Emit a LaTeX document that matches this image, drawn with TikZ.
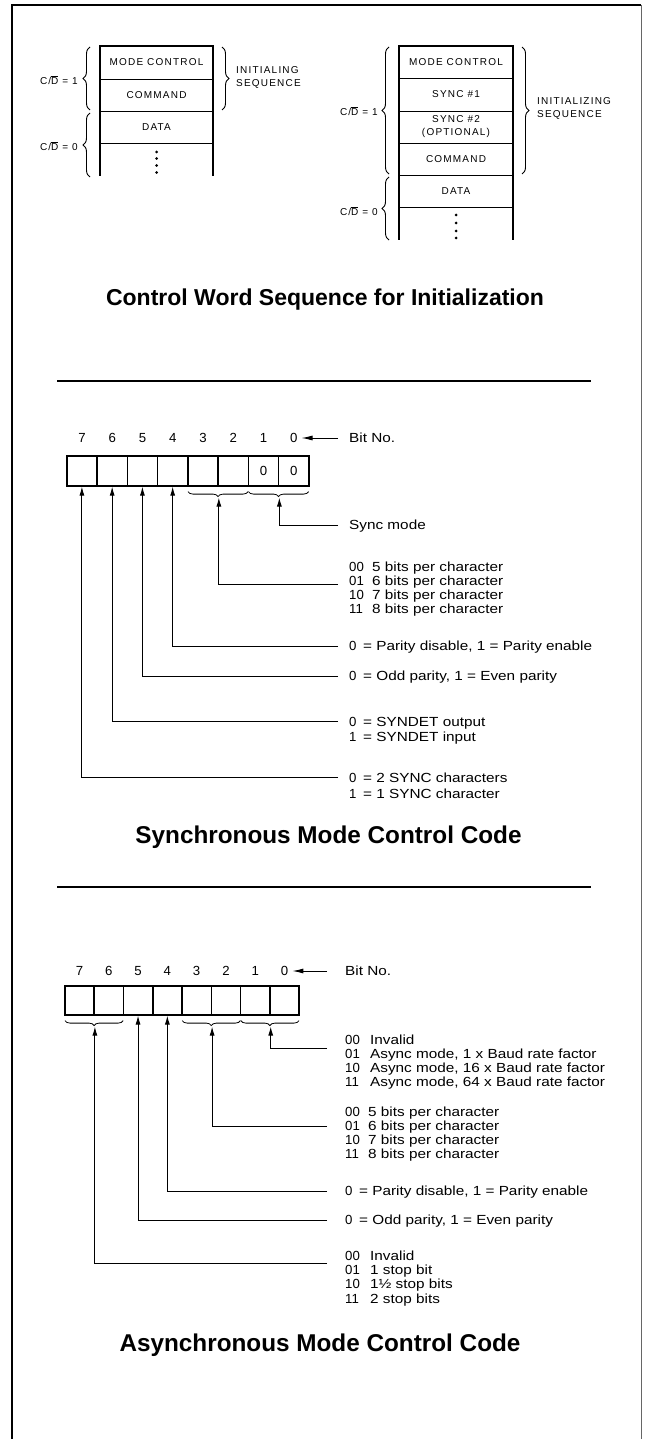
\documentclass[tikz,border=0pt]{standalone}
\usepackage{fontspec}
\setmainfont{Liberation Sans}
\newfontfamily\capsfont[LetterSpace=12]{Liberation Sans}
\newfontfamily\txtfont[FakeStretch=1.16]{Liberation Sans}
\usetikzlibrary{arrows.meta,decorations.pathreplacing,calc}
\tikzset{
  lbl/.style={font=\txtfont\fontsize{13.2}{14}\selectfont, inner sep=0, anchor=base west, yshift=-4.7pt},
  code/.style={lbl, font=\fontsize{13.2}{14}\selectfont},
  capt/.style={font=\capsfont\fontsize{10}{13}\selectfont, inner sep=0},
  ttl/.style={font=\bfseries\fontsize{23}{27}\selectfont, inner sep=0, anchor=base, yshift=-8.2pt},
  bitnum/.style={font=\fontsize{13.2}{14}\selectfont, inner sep=0},
  tcell/.style={draw, line width=0.9pt, minimum width=113pt, inner sep=0, capt, align=center},
  wall/.style={line width=1.5pt},
  conn/.style={line width=0.9pt},
  arr/.style={conn, -{Latex[length=9pt,width=5pt]}},
  brc/.style={decorate, decoration={brace, amplitude=5pt}, line width=0.8pt},
  bigbrc/.style={decorate, decoration={brace, amplitude=7pt}, line width=0.9pt},
  bcell/.style={draw, line width=1.6pt, inner sep=0, anchor=north west, font=\fontsize{13.2}{14}\selectfont},
}
\begin{document}
\begin{tikzpicture}[x=1pt,y=-1pt]
\useasboundingbox (0,0) rectangle (649,1439);
% frame
\draw[line width=2pt] (12,1439) -- (12,5) -- (641,5);
\draw[black!60, line width=1pt] (641,5) -- (641,1439);
% dividers
\draw[line width=1.5pt] (57,381) -- (591,381);
\draw[line width=1.5pt] (57,887) -- (591,887);

% ===== top-left sequence =====
\node[tcell, minimum height=33pt] (lmc) at (156.5,62.5) {MODE CONTROL};
\node[tcell, minimum height=32pt] (lcm) at (156.5,95) {COMMAND};
\node[tcell, minimum height=32pt] (ldt) at (156.5,127) {DATA};
\draw[wall] (100,176) -- (100,46) -- (213,46) -- (213,176);
\foreach \yy in {152,158.5,165.5,172.5} \fill (156.5,\yy) circle (1.5);
\draw[bigbrc] (90,110) -- (90,47);
\draw[bigbrc] (90,177) -- (90,113);
\draw[bigbrc] (222,47) -- (222,110);
\node[capt, anchor=east] (lcd1) at (78,80) {C/$\overline{\mbox{D}}$ = 1};
\node[capt, anchor=east] (lcd0) at (78,146) {C/$\overline{\mbox{D}}$ = 0};
\node[capt, anchor=west, align=left] (linit) at (236,77.5) {INITIALING\\SEQUENCE};

% ===== top-right sequence =====
\node[tcell, minimum width=114pt, minimum height=32pt] (rmc) at (456,62) {MODE CONTROL};
\node[tcell, minimum width=114pt, minimum height=33pt] (rs1) at (456,94.5) {SYNC \#1};
\node[tcell, minimum width=114pt, minimum height=32pt] (rs2) at (456,127) {SYNC \#2\\(OPTIONAL)};
\node[tcell, minimum width=114pt, minimum height=32pt] (rcm) at (456,159) {COMMAND};
\node[tcell, minimum width=114pt, minimum height=32pt] (rdt) at (456,191) {DATA};
\draw[wall] (399,240) -- (399,46) -- (513,46) -- (513,240);
\foreach \yy in {215,223,231,238} \fill (456,\yy) circle (1.5);
\draw[bigbrc] (389,174) -- (389,47);
\draw[bigbrc] (389,240) -- (389,177);
\draw[bigbrc] (522,47) -- (522,174);
\node[capt, anchor=east] (rcd1) at (378,111) {C/$\overline{\mbox{D}}$ = 1};
\node[capt, anchor=east] (rcd0) at (378,211) {C/$\overline{\mbox{D}}$ = 0};
\node[capt, anchor=west, align=left] (rinit) at (537,108) {INITIALIZING\\SEQUENCE};

\node[ttl] (t1) at (325,297) {Control Word Sequence for Initialization};

% ===== synchronous mode =====
\foreach \i in {2,...,7}
  \node[bcell, minimum width=30.25pt, minimum height=30pt] (s\i) at ({66+(7-\i)*30.25},455) {};
\node[bcell, minimum width=30.25pt, minimum height=30pt] (s1) at ({66+6*30.25},455) {0};
\node[bcell, minimum width=30.25pt, minimum height=30pt] (s0) at ({66+7*30.25},455) {0};
\foreach \i in {0,...,7} \node[bitnum] (sn\i) at ($(s\i.north)+(0,-17)$) {\i};
\node[lbl] (sbitno) at (349,438) {Bit No.};
\coordinate (sbs) at (338,438);
\draw[conn, -{Latex[length=11pt,width=5pt]}] (sbs) -- ($(sn0.east)+(4,0)$);
\draw[brc] ($(s2.south east)+(-1,5)$) -- ($(s3.south west)+(1,5)$);
\draw[brc] ($(s0.south east)+(-1,5)$) -- ($(s1.south west)+(1,5)$);
\coordinate (sb32) at ($(s3.south east)+(0,11)$);
\coordinate (sb10) at ($(s1.south east)+(0,11)$);
\coordinate (se10) at (338,525);
\coordinate (se32) at (338,584);
\coordinate (se4) at (338,646);
\coordinate (se5) at (338,676);
\coordinate (se6) at (338,721);
\coordinate (se7) at (338,777);
\draw[arr] (se10) -| (sb10);
\draw[arr] (se32) -| (sb32);
\draw[arr] (se4) -| (s4.south);
\draw[arr] (se5) -| (s5.south);
\draw[arr] (se6) -| (s6.south);
\draw[arr] (se7) -| (s7.south);

\node[lbl] (ssm) at (349,525) {Sync mode};
\node[code] (sc00) at (349,567) {00}; \node[lbl] (sd00) at (372,567) {5 bits per character};
\node[code] (sc01) at (349,581) {01}; \node[lbl] (sd01) at (372,581) {6 bits per character};
\node[code] (sc10) at (349,595) {10}; \node[lbl] (sd10) at (372,595) {7 bits per character};
\node[code] (sc11) at (349,609) {11}; \node[lbl] (sd11) at (372,609) {8 bits per character};
\node[code] (sp0) at (349,646) {0}; \node[lbl] (spd) at (363,646) {= Parity disable, 1 = Parity enable};
\node[code] (so0) at (349,676) {0}; \node[lbl] (sod) at (363,676) {= Odd parity, 1 = Even parity};
\node[code] (sy0) at (349,722) {0}; \node[lbl] (syo) at (363,722) {= SYNDET output};
\node[code] (sy1) at (349,737) {1}; \node[lbl] (syi) at (363,737) {= SYNDET input};
\node[code] (sz0) at (349,778) {0}; \node[lbl] (sz2) at (363,778) {= 2 SYNC characters};
\node[code] (sz1) at (349,794) {1}; \node[lbl] (sz1d) at (363,794) {= 1 SYNC character};

\node[ttl, font=\bfseries\fontsize{24.3}{28}\selectfont] (t2) at (328.5,835) {Synchronous Mode Control Code};

% ===== asynchronous mode =====
\foreach \i in {0,...,7}
  \node[bcell, minimum width=29.3pt, minimum height=29pt] (a\i) at ({64+(7-\i)*29.3},985) {};
\foreach \i in {0,...,7} \node[bitnum] (an\i) at ($(a\i.north)+(0,-14)$) {\i};
\node[lbl] (abitno) at (345,971) {Bit No.};
\coordinate (abs) at (327,971);
\draw[conn, -{Latex[length=11pt,width=5pt]}] (abs) -- ($(an0.east)+(4,0)$);
\draw[brc] ($(a6.south east)+(-1,5)$) -- ($(a7.south west)+(1,5)$);
\draw[brc] ($(a2.south east)+(-1,5)$) -- ($(a3.south west)+(1,5)$);
\draw[brc] ($(a0.south east)+(-1,5)$) -- ($(a1.south west)+(1,5)$);
\coordinate (ab76) at ($(a7.south east)+(0,11)$);
\coordinate (ab32) at ($(a3.south east)+(0,11)$);
\coordinate (ab10) at ($(a1.south east)+(0,11)$);
\coordinate (ae10) at (327,1048);
\coordinate (ae32) at (327,1126);
\coordinate (ae4) at (327,1191);
\coordinate (ae5) at (327,1220);
\coordinate (ae76) at (327,1263);
\draw[arr] (ae10) -| (ab10);
\draw[arr] (ae32) -| (ab32);
\draw[arr] (ae4) -| (a4.south);
\draw[arr] (ae5) -| (a5.south);
\draw[arr] (ae76) -| (ab76);

\node[code] (ac00) at (345,1040) {00}; \node[lbl] (ad00) at (370,1040) {Invalid};
\node[code] (ac01) at (345,1054) {01}; \node[lbl] (ad01) at (370,1054) {Async mode, 1 x Baud rate factor};
\node[code] (ac10) at (345,1068) {10}; \node[lbl] (ad10) at (370,1068) {Async mode, 16 x Baud rate factor};
\node[code] (ac11) at (345,1082) {11}; \node[lbl] (ad11) at (370,1082) {Async mode, 64 x Baud rate factor};
\node[code] (ab00) at (345,1112) {00}; \node[lbl] (abd00) at (368,1112) {5 bits per character};
\node[code] (ab01) at (345,1126) {01}; \node[lbl] (abd01) at (368,1126) {6 bits per character};
\node[code] (ab10t) at (345,1140) {10}; \node[lbl] (abd10) at (368,1140) {7 bits per character};
\node[code] (ab11) at (345,1154) {11}; \node[lbl] (abd11) at (368,1154) {8 bits per character};
\node[code] (ap0) at (345,1191) {0}; \node[lbl] (apd) at (359,1191) {= Parity disable, 1 = Parity enable};
\node[code] (ao0) at (345,1220) {0}; \node[lbl] (aod) at (359,1220) {= Odd parity, 1 = Even parity};
\node[code] (as00) at (345,1256) {00}; \node[lbl] (asd00) at (370,1256) {Invalid};
\node[code] (as01) at (345,1270) {01}; \node[lbl] (asd01) at (370,1270) {1 stop bit};
\node[code] (as10) at (345,1284) {10}; \node[lbl] (asd10) at (370,1284) {1½ stop bits};
\node[code] (as11) at (345,1299) {11}; \node[lbl] (asd11) at (370,1299) {2 stop bits};

\node[ttl, font=\bfseries\fontsize{24.3}{28}\selectfont] (t3) at (320,1343) {Asynchronous Mode Control Code};
\end{tikzpicture}
\end{document}
